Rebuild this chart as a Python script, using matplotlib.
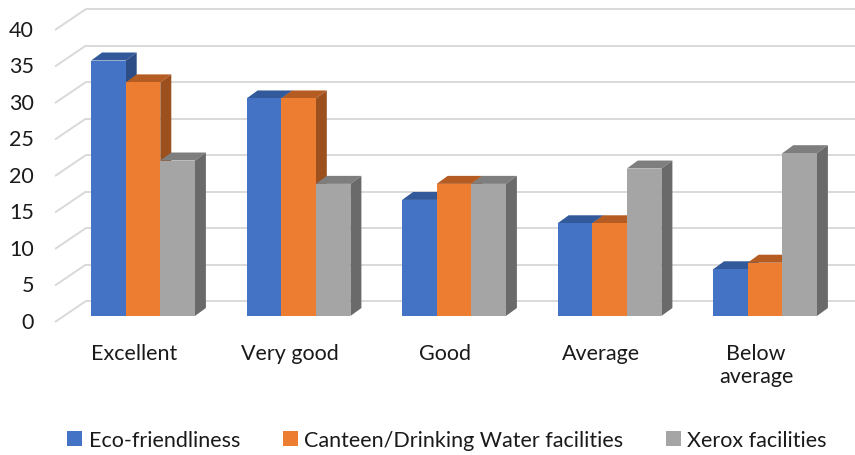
import matplotlib
matplotlib.use('Agg')
import matplotlib.pyplot as plt
from matplotlib.patches import Polygon
import numpy as np

plt.rcParams.update({'font.family': ['Lato', 'DejaVu Sans']})

categories = ['Excellent', 'Very good', 'Good', 'Average', 'Below\naverage']
series = ['Eco-friendliness', 'Canteen/Drinking Water facilities', 'Xerox facilities']
eco = [35.0, 29.8, 15.9, 12.7, 6.4]
canteen = [32.0, 29.8, 18.1, 12.7, 7.3]
xerox = [21.3, 18.1, 18.1, 20.2, 22.3]
yticks = [0, 5, 10, 15, 20, 25, 30, 35, 40]

front_cols = ['#4472C4', '#ED7D31', '#A5A5A5']
top_cols = ['#325A9B', '#B55C23', '#7E7E7E']
side_cols = ['#2C4D86', '#9B501E', '#6A6A6A']

FS = 15.5
W, H = 855, 456
fig = plt.figure(figsize=(W / 100, H / 100), dpi=100)
ax = fig.add_axes([0, 0, 1, 1])

# pixel -> data helpers (category spacing 155.5 px, 7.3 px per unit)
PX_X, PX_Y = 155.5, 7.3
X0, Y0 = 143, 317
def X(px): return (px - X0) / PX_X
def Y(py): return (Y0 - py) / PX_Y

ax.set_xlim(X(0), X(W))
ax.set_ylim(Y(H), Y(0))
ax.axis('off')

# oblique offsets (data units)
bw = 34.6 / PX_X
ddx, ddy = 11 / PX_X, 8 / PX_Y          # bar depth
fdx, fdy = -9 / PX_X, -6 / PX_Y         # front edge of floor
bdx, bdy = 22 / PX_X, 15 / PX_Y         # back wall

# gridlines: front diagonal + back wall line
xf = X(55)
xb = xf + (bdx - fdx)
for v in yticks:
    ax.plot([xf, xb], [v + fdy, v + bdy], color='#d9d9d9', lw=1.4, zorder=1,
            solid_capstyle='butt')
    ax.plot([xb, X(W)], [v + bdy, v + bdy], color='#d9d9d9', lw=1.4, zorder=1,
            solid_capstyle='butt')
    ax.text(X(34), v + fdy, str(v), ha='right', va='center', fontsize=FS,
            color='#1a1a1a')

# bars
idx = np.arange(len(categories))
handles = []
for k, vals in enumerate([eco, canteen, xerox]):
    xs = idx + (k - 1) * bw
    z = 2 + k * 3
    bars = ax.bar(xs, vals, width=bw, color=front_cols[k], zorder=z + 2,
                  label=series[k], linewidth=0)
    handles.append(bars)
    for x, v in zip(xs, vals):
        x0, x1 = x - bw / 2, x + bw / 2
        ax.add_patch(Polygon([(x0, v), (x1, v), (x1 + ddx, v + ddy), (x0 + ddx, v + ddy)],
                             closed=True, fc=top_cols[k], ec='none', zorder=z))
        ax.add_patch(Polygon([(x1, 0), (x1 + ddx, ddy), (x1 + ddx, v + ddy), (x1, v)],
                             closed=True, fc=side_cols[k], ec='none', zorder=z))

# category labels
for i, c in enumerate(categories):
    ax.text(i + fdx, Y(344), c, ha='center', va='top', fontsize=FS,
            color='#1a1a1a', linespacing=1.2)

fig.legend(handles=handles, loc='center', bbox_to_anchor=(0.523, 1 - 441 / H),
           ncol=3, frameon=False, fontsize=FS, handlelength=0.68, handleheight=0.72,
           handletextpad=0.3, columnspacing=2.0, labelcolor='#1a1a1a')

fig.savefig('out.png', dpi=100)
